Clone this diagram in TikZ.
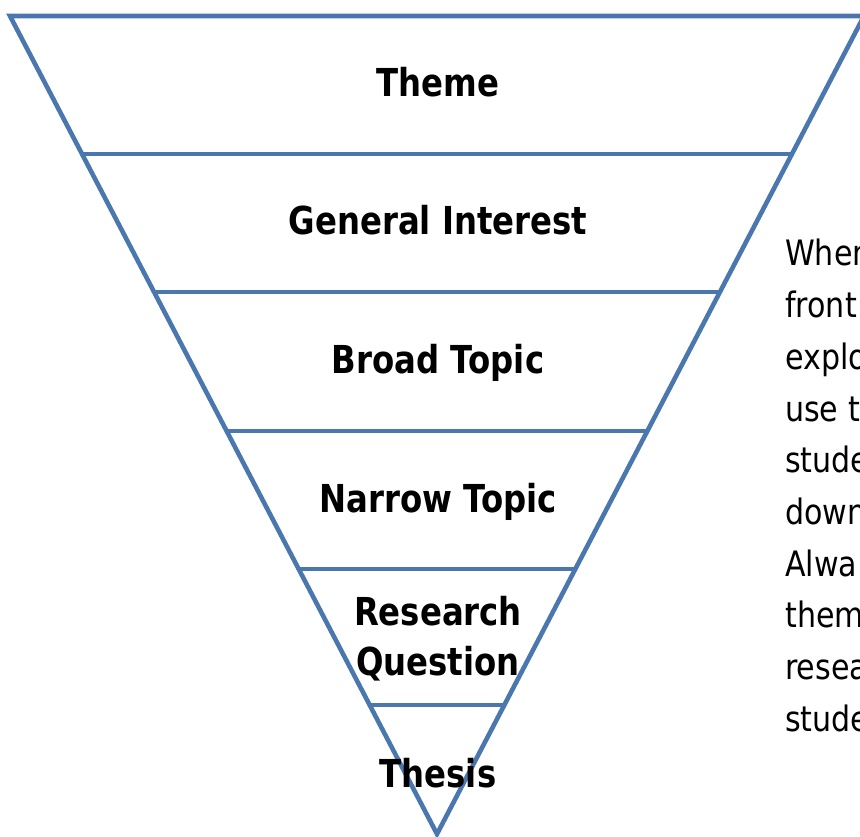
\documentclass[tikz,border=0pt]{standalone}
\usepackage{fontspec}
\setmainfont{DejaVu Sans}[FakeStretch=0.88]
\newfontfamily\lblfont{DejaVu Sans}[FakeStretch=0.84]
\newfontfamily\sidefont{DejaVu Sans}[FakeStretch=0.86]
\definecolor{funnel}{RGB}{74,119,174}
\begin{document}
\begin{tikzpicture}[x=1pt,y=-1pt,
  edge/.style={draw=funnel,line width=4.6pt},
  lvl/.style={anchor=base,inner sep=0pt,font=\lblfont\fontsize{38.5}{40}\selectfont\bfseries},
  side/.style={anchor=base west,inner sep=0pt,font=\sidefont\fontsize{35}{40}\selectfont}]
\useasboundingbox (0,0) rectangle (860,837);
\clip (0,0) rectangle (860,837);
% funnel corners
\coordinate (tl) at (10,16);
\coordinate (tr) at (864,16);
\coordinate (ap) at (437,834);
\draw[edge,line join=miter] (tl) -- (tr) -- (ap) -- cycle;
% horizontal dividers
\foreach \yy/\nm in {154/a,292/b,431/c,569/d,705/e}{
  \coordinate (L\nm) at ({10+0.5217*(\yy-16)},\yy);
  \coordinate (R\nm) at ({864-0.5217*(\yy-16)},\yy);
  \draw[edge] (L\nm) -- (R\nm);
}
% labels
\node[lvl] (theme) at (438,97) {Theme};
\node[lvl] (gen) at (438,235) {General Interest};
\node[lvl] (broad) at (438,373) {Broad Topic};
\node[lvl] (narrow) at (438,512) {Narrow Topic};
\node[lvl] (res) at (438,625) {Research};
\node[lvl] (que) at (438,675) {Question};
\node[lvl] (thesis) at (438,787) {Thesis};
% side text (cut off at the right edge, as in the reference)
\node[side] (s1) at (785,266) {When};
\node[side] (s2) at (785,317.7) {front};
\node[side] (s3) at (785,369.4) {explo};
\node[side] (s4) at (785,421.1) {use t};
\node[side] (s5) at (785,472.8) {stude};
\node[side] (s6) at (785,524.5) {down};
\node[side] (s7) at (785,576.2) {Alwa};
\node[side] (s8) at (785,627.9) {them};
\node[side] (s9) at (785,679.6) {resea};
\node[side] (s10) at (785,731.3) {stude};
\end{tikzpicture}
\end{document}
